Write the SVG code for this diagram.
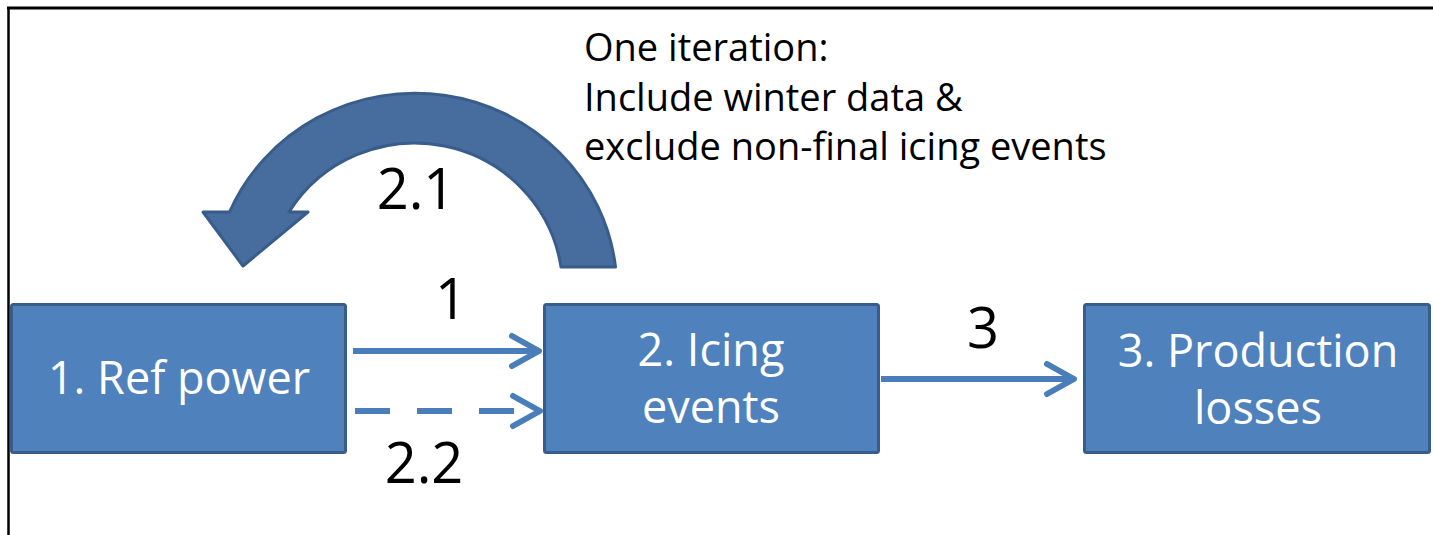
<svg xmlns="http://www.w3.org/2000/svg" width="1433" height="535" viewBox="0 0 1433 535">
  <defs>
    <style>
      .box { fill: #4F81BD; stroke: #385D8A; stroke-width: 3; }
      .box-label { font-family: "Open Sans", "Liberation Sans", sans-serif; font-size: 45px; fill: #FFFFFF; text-anchor: middle; }
      .step { font-family: "Open Sans", "Liberation Sans", sans-serif; font-size: 56px; fill: #000000; text-anchor: middle; }
      .note { font-family: "Open Sans", "Liberation Sans", sans-serif; font-size: 38px; fill: #000000; }
      .link { fill: none; stroke: #4A7EBB; stroke-width: 6; }
      .dashed { stroke-dasharray: 35 27; }
      .loop { fill: #476C9E; stroke: #385D8A; stroke-width: 3; stroke-linejoin: round; }
    </style>
    <marker id="chevron" markerUnits="userSpaceOnUse" viewBox="-34 -22 40 44" refX="0" refY="0" markerWidth="40" markerHeight="44" orient="auto" overflow="visible">
      <path d="M-27,-15 L0,0 L-27,15" fill="none" stroke="#4A7EBB" stroke-width="6" stroke-linecap="round" stroke-linejoin="round"/>
    </marker>
  </defs>

  <!-- frame edges -->
  <g id="frame">
    <line x1="7" y1="8" x2="1433" y2="8" stroke="#000" stroke-width="3"/>
    <line x1="8.5" y1="7" x2="8.5" y2="535" stroke="#000" stroke-width="2.5"/>
  </g>

  <!-- iteration loop arrow -->
  <g id="loop-arrow">
    <path class="loop" d="M615.5,267 A202,197 0 0 0 229.5,212 L203,212 L243,266 L308,212 L289,212 A148,146 0 0 1 561,267 Z"/>
  </g>

  <!-- connectors -->
  <g id="connectors">
    <line class="link" x1="353" y1="351" x2="539" y2="351" marker-end="url(#chevron)"/>
    <line class="link dashed" x1="355" y1="411" x2="540" y2="411" marker-end="url(#chevron)"/>
    <line class="link" x1="881" y1="379" x2="1074" y2="379" marker-end="url(#chevron)"/>
  </g>

  <!-- nodes -->
  <g id="ref-power">
    <rect class="box" x="11.5" y="304.5" width="334" height="148" rx="2"/>
    <text class="box-label" x="179" y="394">1. Ref power</text>
  </g>
  <g id="icing-events">
    <rect class="box" x="544.5" y="304.5" width="334" height="148" rx="2"/>
    <text class="box-label" x="711" y="366">2. Icing</text>
    <text class="box-label" x="711" y="423">events</text>
  </g>
  <g id="production-losses">
    <rect class="box" x="1084.5" y="304.5" width="345" height="148" rx="2"/>
    <text class="box-label" x="1258" y="367">3. Production</text>
    <text class="box-label" x="1258" y="424">losses</text>
  </g>

  <!-- step labels -->
  <g id="step-labels">
    <text class="step" x="416" y="209">2.1</text>
    <text class="step" x="451" y="319">1</text>
    <text class="step" x="424" y="483">2.2</text>
    <text class="step" x="983" y="348">3</text>
  </g>

  <!-- iteration note -->
  <g id="iteration-note">
    <text class="note" x="584" y="61">One iteration:</text>
    <text class="note" x="584" y="111">Include winter data &amp;</text>
    <text class="note" x="584" y="160">exclude non-final icing events</text>
  </g>
</svg>
